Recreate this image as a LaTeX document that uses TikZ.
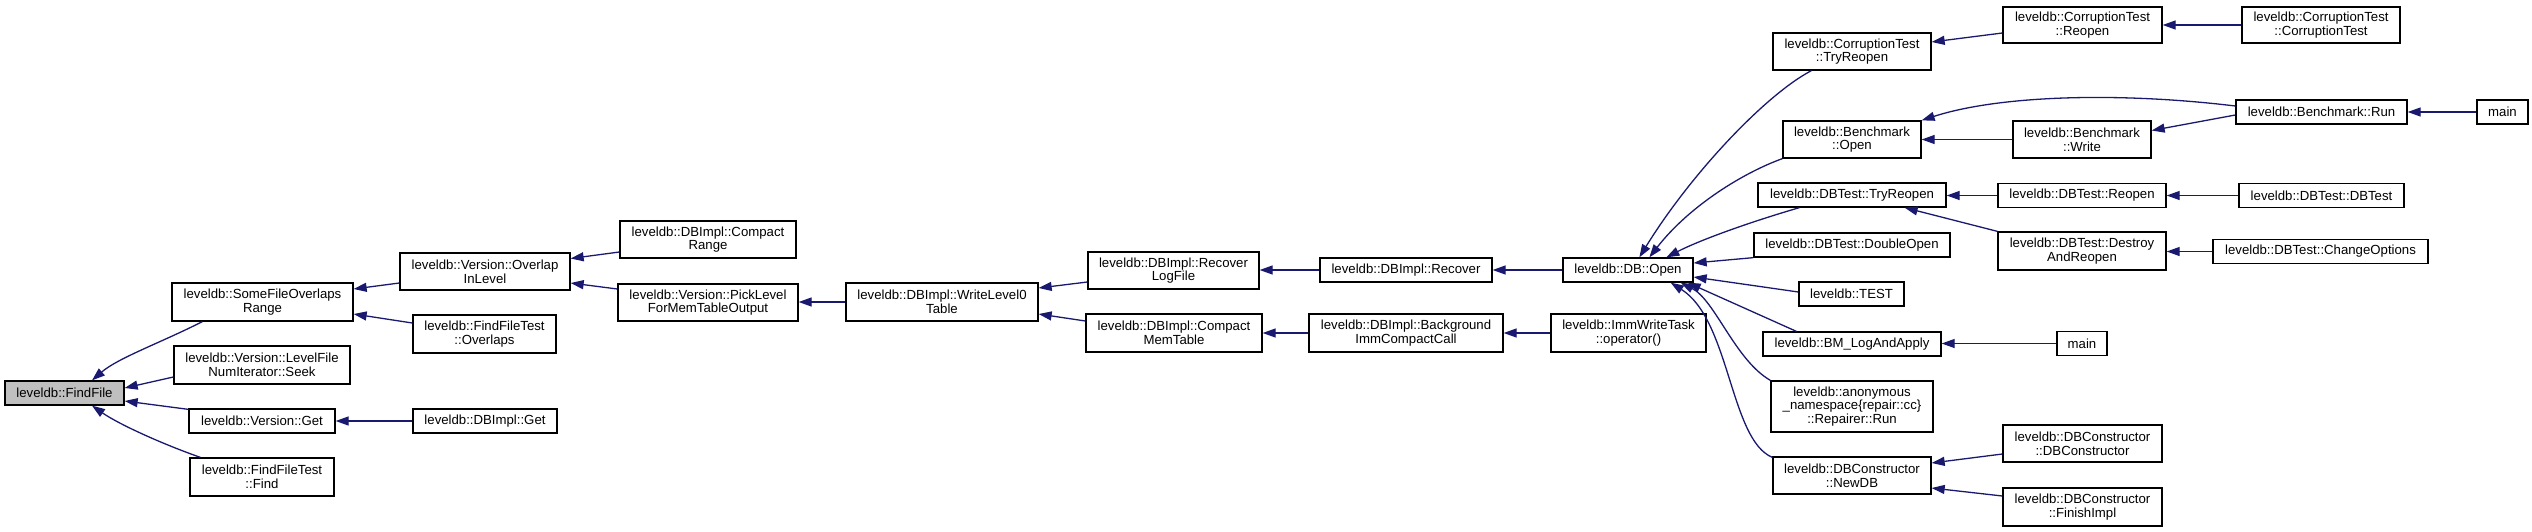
\documentclass[tikz,border=0pt]{standalone}
\usepackage{fontspec}
\setmainfont{Liberation Sans}
\usetikzlibrary{arrows.meta,calc}
\definecolor{edgeblue}{RGB}{25,25,112}
\definecolor{focusgray}{RGB}{191,191,191}
\newcommand\mybox[6]{\node[box,minimum width=#4pt,minimum height=#5pt] (#1) at (#2,#3) {#6};}
\begin{document}
\begin{tikzpicture}[x=1pt,y=-1pt,
  box/.style={draw=black,line width=1.3pt,fill=white,inner sep=0pt,align=center,
    font=\fontsize{13.2}{13.6}\selectfont},
  call/.style={draw=edgeblue,line width=1.3pt,-{Triangle[length=13pt,width=9pt]}}]
\useasboundingbox (0,0) rectangle (2532,531);
% column 0
\node[box,fill=focusgray,minimum width=119pt,minimum height=24pt] (findfile) at (64.5,393) {leveldb::FindFile};
% column 1
\mybox{sfo}{262.5}{302}{181}{38}{leveldb::SomeFileOverlaps\\Range}
\mybox{seek}{262}{365}{176}{38}{leveldb::Version::LevelFile\\NumIterator::Seek}
\mybox{vget}{262}{421}{146}{24}{leveldb::Version::Get}
\mybox{fftfind}{262}{477}{144}{38}{leveldb::FindFileTest\\::Find}
% column 2
\mybox{oil}{485}{271.5}{170}{37}{leveldb::Version::Overlap\\InLevel}
\mybox{fftov}{484.5}{334}{143}{38}{leveldb::FindFileTest\\::Overlaps}
\mybox{dbget}{485}{421}{144}{24}{leveldb::DBImpl::Get}
% column 3
\mybox{crange}{708}{239.5}{176}{37}{leveldb::DBImpl::Compact\\Range}
\mybox{pick}{708}{302.5}{180}{37}{leveldb::Version::PickLevel\\ForMemTableOutput}
% column 4
\mybox{wl0}{942}{302}{192}{38}{leveldb::DBImpl::WriteLevel0\\Table}
% column 5
\mybox{rlog}{1173.5}{270.5}{171}{37}{leveldb::DBImpl::Recover\\LogFile}
\mybox{cmem}{1174}{333}{176}{38}{leveldb::DBImpl::Compact\\MemTable}
% column 6
\mybox{drec}{1406}{270}{172}{24}{leveldb::DBImpl::Recover}
\mybox{bgimm}{1406}{333}{194}{38}{leveldb::DBImpl::Background\\ImmCompactCall}
% column 7
\mybox{dbopen}{1628}{270}{130}{24}{leveldb::DB::Open}
\mybox{immwt}{1628.5}{333}{155}{38}{leveldb::ImmWriteTask\\::operator()}
% column 8
\mybox{ctt}{1852}{51.5}{158}{37}{leveldb::CorruptionTest\\::TryReopen}
\mybox{bmopen}{1852}{139.5}{138}{37}{leveldb::Benchmark\\::Open}
\mybox{dbtry}{1852}{195}{188}{24}{leveldb::DBTest::TryReopen}
\mybox{dblopen}{1852}{245}{196}{24}{leveldb::DBTest::DoubleOpen}
\mybox{test}{1851.5}{294}{105}{24}{leveldb::TEST}
\mybox{bmlog}{1852}{344}{178}{24}{leveldb::BM\_LogAndApply}
\mybox{anon}{1852}{406.5}{162}{51}{leveldb::anonymous\\\_namespace\{repair::cc\}\\::Repairer::Run}
\mybox{newdb}{1852}{475.5}{158}{37}{leveldb::DBConstructor\\::NewDB}
% column 9
\mybox{ctre}{2082.5}{25}{159}{36}{leveldb::CorruptionTest\\::Reopen}
\mybox{bmwrite}{2082}{139.5}{138}{37}{leveldb::Benchmark\\::Write}
\mybox{dbre}{2082}{195.5}{168}{24}{leveldb::DBTest::Reopen}
\mybox{destroy}{2082}{251}{168}{38}{leveldb::DBTest::Destroy\\AndReopen}
\mybox{mainb}{2082}{343.5}{50}{24}{main}
\mybox{dbcdbc}{2082.5}{443.5}{159}{37}{leveldb::DBConstructor\\::DBConstructor}
\mybox{fin}{2082.5}{507}{159}{38}{leveldb::DBConstructor\\::FinishImpl}
% column 10
\mybox{ctct}{2321}{25}{158}{36}{leveldb::CorruptionTest\\::CorruptionTest}
\mybox{bmrun}{2321.5}{112}{171}{24}{leveldb::Benchmark::Run}
\mybox{dbdb}{2321.5}{195.5}{165}{24}{leveldb::DBTest::DBTest}
\mybox{chg}{2320.5}{251.5}{215}{24}{leveldb::DBTest::ChangeOptions}
% column 11
\mybox{maina}{2502.5}{112}{51}{24}{main}
% ---- edges: caller -> callee ----
\draw[call] ($(sfo.south west)+(31,0)$) .. controls (160,343) and (118,358) .. ($(findfile.north)+(27.5,0)$);
\draw[call] ($(seek.west)+(0,12)$) -- ($(findfile.east)+(0,-5)$);
\draw[call] ($(vget.north west)+(0,1)$) -- ($(findfile.east)+(0,8)$);
\draw[call] ($(fftfind.north west)+(11,0)$) .. controls (165,445) and (120,425) .. ($(findfile.south)+(27.5,0)$);
\draw[call] ($(oil.west)+(0,11.5)$) -- ($(sfo.east)+(0,-13)$);
\draw[call] ($(fftov.west)+(0,-11)$) -- ($(sfo.east)+(0,12)$);
\draw[call] (dbget.west) -- (vget.east);
\draw[call] ($(crange.west)+(0,12.5)$) -- ($(oil.east)+(0,-13)$);
\draw[call] ($(pick.west)+(0,-13.5)$) -- ($(oil.east)+(0,11.5)$);
\draw[call] (wl0.west) -- (wl0.west -| pick.east);
\draw[call] ($(rlog.west)+(0,11.5)$) -- ($(wl0.east)+(0,-14)$);
\draw[call] ($(cmem.west)+(0,-12)$) -- ($(wl0.east)+(0,12)$);
\draw[call] (drec.west) -- (drec.west -| rlog.east);
\draw[call] (bgimm.west) -- (cmem.east);
\draw[call] (dbopen.west) -- (drec.east);
\draw[call] (immwt.west) -- (bgimm.east);
% into DB::Open
\draw[call] ($(ctt.south west)+(39,0)$) .. controls (1765,95) and (1690,175) .. ($(dbopen.north west)+(77,0)$);
\draw[call] (bmopen.south west) .. controls (1745,172) and (1690,205) .. ($(dbopen.north west)+(87,0)$);
\draw[call] ($(dbtry.south west)+(42,0)$) .. controls (1750,222) and (1700,240) .. ($(dbopen.north west)+(104,0)$);
\draw[call] (dblopen.south west) -- ($(dbopen.east)+(0,-7)$);
\draw[call] ($(test.west)+(0,-2)$) -- ($(dbopen.east)+(0,7)$);
\draw[call] ($(bmlog.north west)+(34,0)$) -- ($(dbopen.south east)+(-6,0)$);
\draw[call] (anon.north west) .. controls (1735,360) and (1715,300) .. ($(dbopen.south east)+(-13,0)$);
\draw[call] ($(newdb.north west)+(0,1)$) .. controls (1730,440) and (1730,320) .. ($(dbopen.south east)+(-23,0)$);
% corruption test
\draw[call] ($(ctre.west)+(0,8)$) -- ($(ctt.east)+(0,-9.5)$);
\draw[call] (ctct.west) -- (ctre.east);
% benchmark
\draw[call] ($(bmrun.west)+(0,-6)$) .. controls (2120,92) and (2000,95) .. (bmopen.north east);
\draw[call] ($(bmrun.west)+(0,3)$) -- ($(bmwrite.east)+(0,-9)$);
\draw[call] (bmwrite.west) -- (bmopen.east);
\draw[call] (maina.west) -- (bmrun.east);
% dbtest
\draw[call] (dbre.west) -- (dbre.west -| dbtry.east);
\draw[call] (dbdb.west) -- (dbre.east);
\draw[call] (destroy.north west) -- ($(dbtry.south east)+(-42,0)$);
\draw[call] (chg.west) -- (chg.west -| destroy.east);
% log and apply
\draw[call] (mainb.west) -- (mainb.west -| bmlog.east);
% dbconstructor
\draw[call] ($(dbcdbc.west)+(0,10.5)$) -- ($(newdb.east)+(0,-12.5)$);
\draw[call] ($(fin.west)+(0,-11)$) -- ($(newdb.east)+(0,12.5)$);
\end{tikzpicture}
\end{document}
